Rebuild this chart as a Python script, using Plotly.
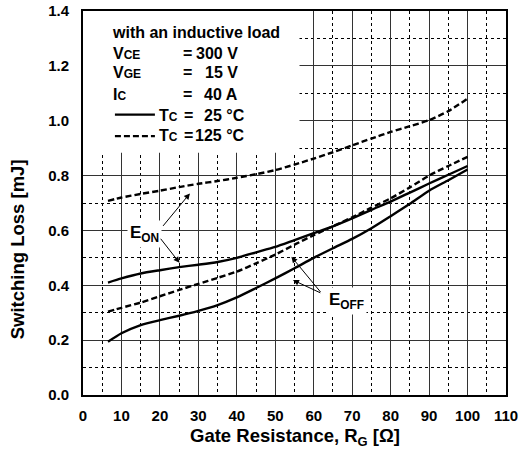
import plotly.graph_objects as go

# ---- data ----
rg = [6.5, 10, 15, 20, 25, 30, 35, 40, 45, 50, 55, 60, 65, 70, 75, 80, 85, 90, 95, 100]
eon_125 = [0.708, 0.72, 0.733, 0.745, 0.758, 0.77, 0.78, 0.792, 0.805, 0.82, 0.84, 0.862,
           0.885, 0.91, 0.935, 0.959, 0.98, 1.002, 1.035, 1.08]
eon_25 = [0.41, 0.425, 0.443, 0.455, 0.466, 0.475, 0.485, 0.50, 0.52, 0.54, 0.565, 0.59,
          0.615, 0.644, 0.675, 0.705, 0.738, 0.771, 0.803, 0.835]
eoff_125 = [0.304, 0.318, 0.337, 0.36, 0.383, 0.405, 0.427, 0.45, 0.48, 0.512, 0.548, 0.583,
            0.615, 0.648, 0.683, 0.717, 0.757, 0.80, 0.835, 0.868]
eoff_25 = [0.194, 0.225, 0.255, 0.273, 0.289, 0.307, 0.328, 0.356, 0.39, 0.425, 0.462, 0.50,
           0.535, 0.569, 0.608, 0.652, 0.697, 0.745, 0.783, 0.822]

x_ticks = [0, 10, 20, 30, 40, 50, 60, 70, 80, 90, 100, 110]
y_ticks = [0.0, 0.2, 0.4, 0.6, 0.8, 1.0, 1.2, 1.4]

FONT = "Liberation Sans, Arial, sans-serif"
DASH = "6px,3px"

fig = go.Figure()
for ys, dash in [(eon_125, DASH), (eon_25, "solid"), (eoff_125, DASH), (eoff_25, "solid")]:
    fig.add_trace(go.Scatter(x=rg, y=ys, mode="lines", showlegend=False, hoverinfo="skip",
                             line=dict(color="black", width=2.4, dash=dash, shape="spline", smoothing=0.6)))

# white legend panel masking the grid
fig.add_shape(type="rect", x0=0, x1=56.3, y0=0.883, y1=1.4, fillcolor="white",
              line=dict(width=0), layer="between")
# legend line samples
fig.add_shape(type="line", x0=8.3, x1=18.7, y0=1.022, y1=1.022, line=dict(color="black", width=2.2))
fig.add_shape(type="line", x0=8.3, x1=18.7, y0=0.944, y1=0.944, line=dict(color="black", width=2.2, dash=DASH))

ann_font = dict(family=FONT, size=16, color="black", weight="bold")
S = "<span style='font-size:12px'>%s</span>"
texts = [
    ("with an inductive load", 7.0, 1.322, "left"),
    ("V" + S % "CE", 7.4, 1.245, "left"),
    ("V" + S % "GE", 7.4, 1.177, "left"),
    ("I" + S % "C", 7.2, 1.097, "left"),
    ("=", 27.3, 1.245, "center"),
    ("=", 27.3, 1.177, "center"),
    ("=", 27.3, 1.097, "center"),
    ("300 V", 40.85, 1.245, "right"),
    ("15 V", 40.85, 1.177, "right"),
    ("40 A", 40.85, 1.097, "right"),
    ("T" + S % "C", 19.2, 1.019, "left"),
    ("T" + S % "C", 19.2, 0.946, "left"),
    ("=", 27.4, 1.019, "center"),
    ("=", 27.4, 0.946, "center"),
    ("25 °C", 42.6, 1.019, "right"),
    ("125 °C", 42.6, 0.946, "right"),
]
for t, x, y, xa in texts:
    fig.add_annotation(x=x, y=y, text=t, showarrow=False, xanchor=xa, yanchor="middle", font=ann_font)

# curve labels
lab_font = dict(family=FONT, size=17, color="black", weight="bold")
fig.add_annotation(x=16.1, y=0.588, text="E<sub>ON</sub>", showarrow=False, bgcolor="white",
                   borderpad=2, font=lab_font)
fig.add_annotation(x=68.6, y=0.342, text="E<sub>OFF</sub>", showarrow=False, bgcolor="white",
                   borderpad=2, font=lab_font)

# arrows
arrows = [
    ((27.8, 0.735), (20.5, 0.611)),
    ((25.1, 0.482), (19.9, 0.575)),
    ((54.2, 0.504), (62.1, 0.370)),
    ((54.6, 0.419), (62.1, 0.370)),
]
for (hx, hy), (tx, ty) in arrows:
    fig.add_annotation(x=hx, y=hy, ax=tx, ay=ty, axref="x", ayref="y", text="", showarrow=True,
                       arrowhead=2, arrowsize=1.2, arrowwidth=1, arrowcolor="black")

title_font = dict(family=FONT, size=18.5, color="black", weight="bold")
# axis titles placed like the reference
fig.add_annotation(xref="paper", yref="paper", x=-0.154, y=0.379, text="Switching Loss [mJ]",
                   textangle=-90, showarrow=False, xanchor="center", yanchor="middle", font=title_font)
fig.add_annotation(xref="paper", yref="paper", x=0.5, y=-0.074, text="Gate Resistance, R<sub>G</sub> [Ω]",
                   showarrow=False, xanchor="center", yanchor="top", font=title_font)

axis_common = dict(showline=True, mirror=True, linecolor="black", linewidth=2, showgrid=True,
                   gridcolor="#333333", gridwidth=1, zeroline=False, automargin=False,
                   tickfont=dict(family=FONT, size=15, color="black", weight="bold"),
                   ticks="outside", tickcolor="rgba(0,0,0,0)")
fig.update_xaxes(range=[0, 110], tickvals=x_ticks, ticktext=[str(v) for v in x_ticks],
                 minor=dict(dtick=5, showgrid=True, griddash="dot", gridcolor="black", gridwidth=1),
                 ticklen=6, **axis_common)
fig.update_yaxes(range=[0, 1.4], tickvals=y_ticks, ticktext=["%.1f" % v for v in y_ticks],
                 minor=dict(dtick=0.1, showgrid=True, griddash="dot", gridcolor="black", gridwidth=1),
                 ticklen=9, **axis_common)

fig.update_layout(width=521, height=450, margin=dict(l=83, r=15, t=11, b=55),
                  plot_bgcolor="white", paper_bgcolor="white", showlegend=False,
                  font=dict(family=FONT, color="black"))

fig.write_html("out.html", config={"displayModeBar": False, "staticPlot": True},
               post_script="document.body.style.margin='0px';document.body.style.padding='0px';")
